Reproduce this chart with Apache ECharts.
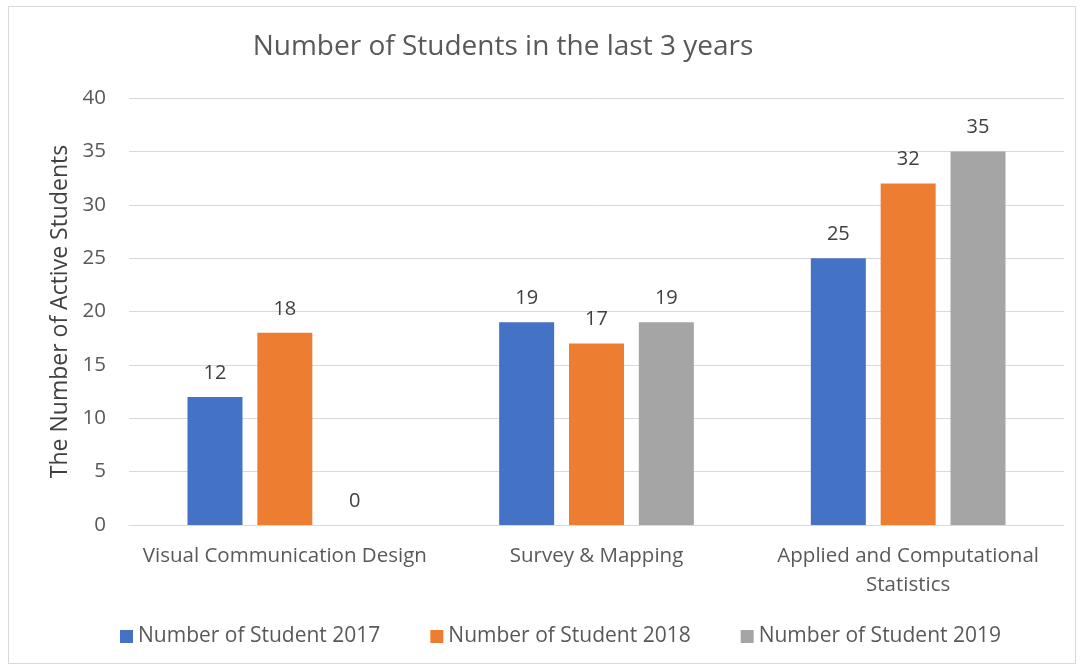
<!DOCTYPE html>
<html>
<head>
<meta charset="utf-8">
<script src="https://cdn.jsdelivr.net/npm/echarts@6/dist/echarts.min.js"></script>
<style>
  html, body { margin: 0; padding: 0; background: #ffffff; }
  #frame { position: absolute; left: 8px; top: 6px; width: 1068px; height: 658px; border: 1px solid #d9d9d9; box-sizing: border-box; }
  #chart { position: absolute; left: 0; top: 0; width: 1085px; height: 672px; }
</style>
</head>
<body>
<div id="frame"></div>
<div id="chart"></div>
<script>
var categories = ['Visual Communication Design', 'Survey & Mapping', 'Applied and Computational\nStatistics'];
var seriesNames = ['Number of Student 2017', 'Number of Student 2018', 'Number of Student 2019'];
var students2017 = [12, 19, 25];
var students2018 = [18, 17, 32];
var students2019 = [0, 19, 35];
var colors = ['#4472c4', '#ed7d31', '#a5a5a5'];

var fontFamily = '"Open Sans", "Liberation Sans", sans-serif';

function makeSeries(name, data, color) {
    return {
        name: name,
        type: 'bar',
        data: data,
        barWidth: 55,
        barGap: '27%',
        itemStyle: { color: color },
        label: {
            show: true,
            position: 'top',
            distance: 14,
            color: '#404040',
            fontSize: 20,
            fontFamily: fontFamily
        }
    };
}

var myChart = echarts.init(document.getElementById('chart'));

var option = {
    backgroundColor: 'transparent',
    animation: false,
    color: colors,
    title: {
        text: 'Number of Students in the last 3 years',
        left: 498,
        textAlign: 'center',
        top: 28,
        textStyle: { color: '#595959', fontSize: 28, fontWeight: 'normal', fontFamily: fontFamily }
    },
    grid: { left: 129, right: 21, top: 98, bottom: 147 },
    legend: {
        bottom: 20,
        left: 115,
        itemWidth: 13,
        itemHeight: 13,
        itemGap: 50,
        icon: 'rect',
        textStyle: { color: '#595959', fontSize: 21, fontFamily: fontFamily },
        data: seriesNames
    },
    xAxis: {
        type: 'category',
        data: categories,
        axisLine: { lineStyle: { color: '#d9d9d9', width: 1 } },
        axisTick: { show: false },
        axisLabel: { color: '#595959', fontSize: 20.5, fontFamily: fontFamily, margin: 17, lineHeight: 29, interval: 0 }
    },
    yAxis: {
        type: 'value',
        min: 0,
        max: 40,
        interval: 5,
        name: 'The Number of Active Students',
        nameLocation: 'middle',
        nameGap: 57,
        nameTextStyle: { color: '#404040', fontSize: 23, fontFamily: fontFamily },
        axisLine: { show: false },
        axisTick: { show: false },
        axisLabel: { color: '#595959', fontSize: 20.5, fontFamily: fontFamily, margin: 23 },
        splitLine: { lineStyle: { color: '#d9d9d9', width: 1 } }
    },
    series: [
        makeSeries(seriesNames[0], students2017, colors[0]),
        makeSeries(seriesNames[1], students2018, colors[1]),
        makeSeries(seriesNames[2], students2019, colors[2])
    ]
};

myChart.setOption(option);

window.onresize = function () {
    myChart.resize();
};
</script>
</body>
</html>
